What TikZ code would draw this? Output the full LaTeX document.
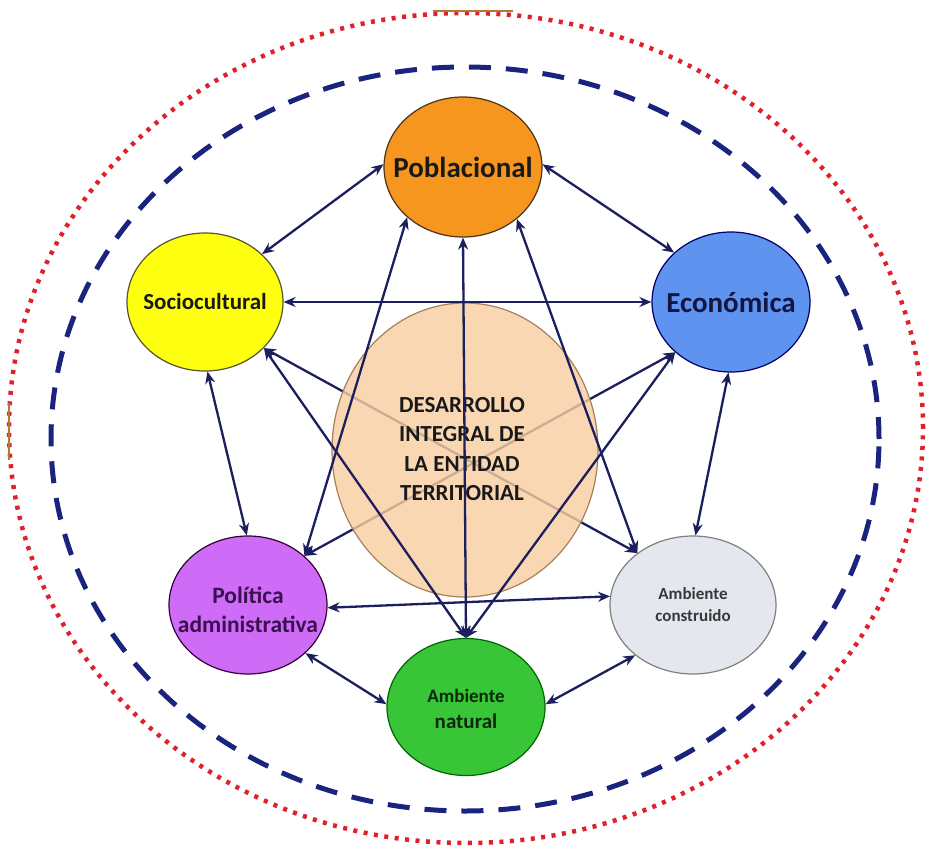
\documentclass[tikz,border=0pt]{standalone}
\usepackage{fontspec}
\setmainfont{Carlito}
\usetikzlibrary{shapes.geometric,arrows.meta}
\definecolor{arrowc}{HTML}{1B1F5E}
\definecolor{navyd}{HTML}{1A237E}
\definecolor{reddot}{HTML}{E0202A}
\definecolor{pobfill}{HTML}{F7961E}
\definecolor{socfill}{HTML}{FFFF10}
\definecolor{ecofill}{HTML}{5E93F0}
\definecolor{polfill}{HTML}{CF6CF7}
\definecolor{confill}{HTML}{E5E7EF}
\definecolor{natfill}{HTML}{38C538}
\definecolor{cenfill}{HTML}{F9CEA1}
\definecolor{artif}{HTML}{B07A30}
\begin{document}
\begin{tikzpicture}[x=1pt,y=-1pt,
  dim/.style={ellipse, draw=#1, line width=1.2pt, inner sep=0pt},
  conn/.style={draw=arrowc, line width=2.3pt, arrows={Stealth[length=12pt,width=10pt]-Stealth[length=12pt,width=10pt]}},
  lab/.style={align=center, font=\bfseries, inner sep=0pt}
]
\useasboundingbox (0,0) rectangle (933,848);
\fill[white] (0,0) rectangle (933,848);
% frames
\draw[reddot, line width=4.5pt, dash pattern=on 4pt off 6.5pt] (466,428) ellipse [x radius=457pt, y radius=415pt];
\draw[navyd, line width=5pt, dash pattern=on 22pt off 15pt] (465,439) ellipse [x radius=414pt, y radius=372pt];
\coordinate (tA) at (433,11); \coordinate (tB) at (513,11);
\draw[artif, line width=1.5pt] (tA) -- (tB);
\coordinate (lA) at (9,403); \coordinate (lB) at (9,460);
\draw[artif, line width=1.5pt] (lA) -- (lB);
% outer nodes
\node[dim=black!60!brown, fill=pobfill, minimum width=158pt, minimum height=140pt,
  label={[lab, text=black!90, font=\bfseries\fontsize{29}{33}\selectfont]center:Poblacional}] (pob) at (463,167) {};
\node[dim=black!50!olive, fill=socfill, minimum width=156pt, minimum height=138pt,
  label={[lab, text=black!90, font=\bfseries\fontsize{23}{27}\selectfont]center:Sociocultural}] (soc) at (205,302) {};
\node[dim=black!60!blue, fill=ecofill, minimum width=158pt, minimum height=140pt,
  label={[lab, text=arrowc!70!black, font=\bfseries\fontsize{29}{33}\selectfont]center:Económica}] (eco) at (731,302) {};
\node[dim=black!60!violet, fill=polfill, minimum width=158pt, minimum height=138pt,
  label={[lab, yshift=-5pt, text={rgb,255:red,58;green,16;blue,80}, font=\bfseries\fontsize{23.5}{29}\selectfont]center:{Política\\administrativa}}] (pol) at (248,605) {};
\node[dim=gray, fill=confill, minimum width=166pt, minimum height=138pt,
  label={[lab, text=black!78, font=\bfseries\fontsize{17}{22}\selectfont]center:{Ambiente\\construido}}] (con) at (693,605) {};
\node[dim=black!60!green, fill=natfill, minimum width=158pt, minimum height=137pt,
  label={[lab, yshift=-2pt, text={rgb,255:red,10;green,40;blue,10}, font=\bfseries\fontsize{21}{26}\selectfont]center:{{\fontsize{19}{26}\selectfont Ambiente}\\natural}}] (nat) at (466,707) {};
% lines below the centre
\draw[conn] (soc.322) -- (con.137);
\draw[conn] (eco.222) -- (pol.41);
% centre
\node[ellipse, draw=brown!60!gray, line width=1.2pt, fill=cenfill, fill opacity=0.8, text opacity=1,
  minimum width=266pt, minimum height=294pt, inner sep=0pt] (cen) at (465,450) {};
\node[lab, text=black!90, font=\bfseries\fontsize{23}{29.5}\selectfont] (centxt) at (462,449)
  {DESARROLLO\\INTEGRAL DE\\LA ENTIDAD\\TERRITORIAL};
% outer ring connectors
\draw[conn] (pob.178) -- (soc.40);
\draw[conn] (pob.2) -- (eco.139);
\draw[conn] (soc.0) -- (eco.180);
\draw[conn] (soc.272) -- (pol.91);
\draw[conn] (eco.268) -- (con.88);
\draw[conn] (pol.358) -- (con.174);
\draw[conn] (pol.320) -- (nat.178);
\draw[conn] (nat.2) -- (con.221);
% inner connectors
\draw[conn] (pob.222) -- (pol.41);
\draw[conn] (pob.316) -- (con.137);
\draw[conn] (pob.270) -- (nat.90);
\draw[conn] (soc.322) -- (nat.90);
\draw[conn] (eco.222) -- (nat.90);
\end{tikzpicture}
\end{document}
